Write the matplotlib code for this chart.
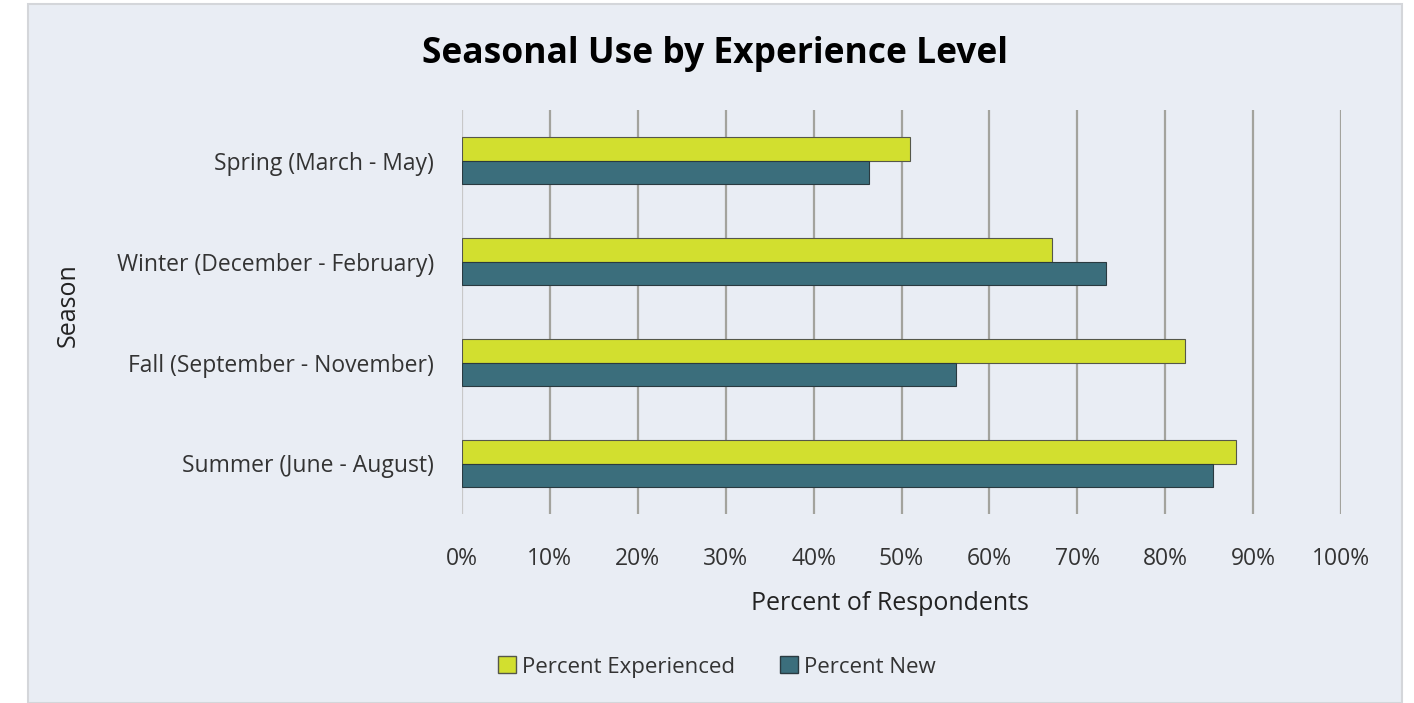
import matplotlib.pyplot as plt
import numpy as np
from matplotlib.patches import Rectangle, Patch

plt.rcParams['font.family'] = ['Open Sans', 'DejaVu Sans']

# data
seasons = ['Spring (March - May)', 'Winter (December - February)',
           'Fall (September - November)', 'Summer (June - August)']
pct_experienced = [51.0, 67.1, 82.3, 88.1]
pct_new = [46.3, 73.3, 56.2, 85.4]
xticks = [0, 10, 20, 30, 40, 50, 60, 70, 80, 90, 100]

BG = '#e9edf4'
YELLOW = '#d2df2f'
TEAL = '#3b6e7c'

fig = plt.figure(figsize=(14.14, 7.03), dpi=100)
fig.patch.set_facecolor('white')

# light panel behind the chart
panel = Rectangle((28 / 1414, 0), (1402 - 28) / 1414, (703 - 4) / 703,
                  transform=fig.transFigure, facecolor=BG,
                  edgecolor='#d4d6da', linewidth=1.5, zorder=-10)
fig.patches.append(panel)

ax = fig.add_axes([462 / 1414, 1 - 514 / 703, (1341 - 462) / 1414, (514 - 110) / 703])
ax.set_facecolor('none')

y = np.arange(len(seasons))
h = 0.23
ax.barh(y - h / 2, pct_experienced, height=h, color=YELLOW,
        edgecolor='#55574a', linewidth=0.8, zorder=3)
ax.barh(y + h / 2, pct_new, height=h, color=TEAL,
        edgecolor='#2a3a40', linewidth=0.8, zorder=3)

ax.set_xlim(0, 100)
ax.set_ylim(len(seasons) - 0.5, -0.5)
ax.set_xticks(xticks)
ax.set_xticklabels([f'{t}%' for t in xticks])
ax.set_yticks(y)
ax.set_yticklabels(seasons)

for t in xticks[1:]:
    ax.axvline(t, color='#a3a39d', linewidth=1.6, zorder=1)
ax.axvline(0, color='#c8c8c8', linewidth=1.6, zorder=1)

for s in ax.spines.values():
    s.set_visible(False)
ax.tick_params(axis='both', length=0, labelsize=16.5, colors='#333333')
ax.tick_params(axis='x', pad=24)
ax.tick_params(axis='y', pad=20)

fig.text(890 / 1414, 1 - 604 / 703, 'Percent of Respondents',
         ha='center', va='center', fontsize=18, color='#222222')
fig.text(68 / 1414, 1 - 305 / 703, 'Season', rotation=90,
         ha='center', va='center', fontsize=18, color='#222222')

fig.text(715 / 1414, 1 - 54 / 703, 'Seasonal Use by Experience Level',
         ha='center', va='center', fontsize=25.5, fontweight='bold', color='black')

handles = [Patch(facecolor=YELLOW, edgecolor='#55574a', label='Percent Experienced'),
           Patch(facecolor=TEAL, edgecolor='#2a3a40', label='Percent New')]
fig.legend(handles=handles, loc='center', bbox_to_anchor=(717 / 1414, 1 - 667 / 703),
           ncol=2, frameon=False, fontsize=16, handlelength=0.8, handleheight=0.8,
           handletextpad=0.3, columnspacing=2.0, labelcolor='#333333')

fig.savefig('out.png', dpi=100, facecolor='white')
